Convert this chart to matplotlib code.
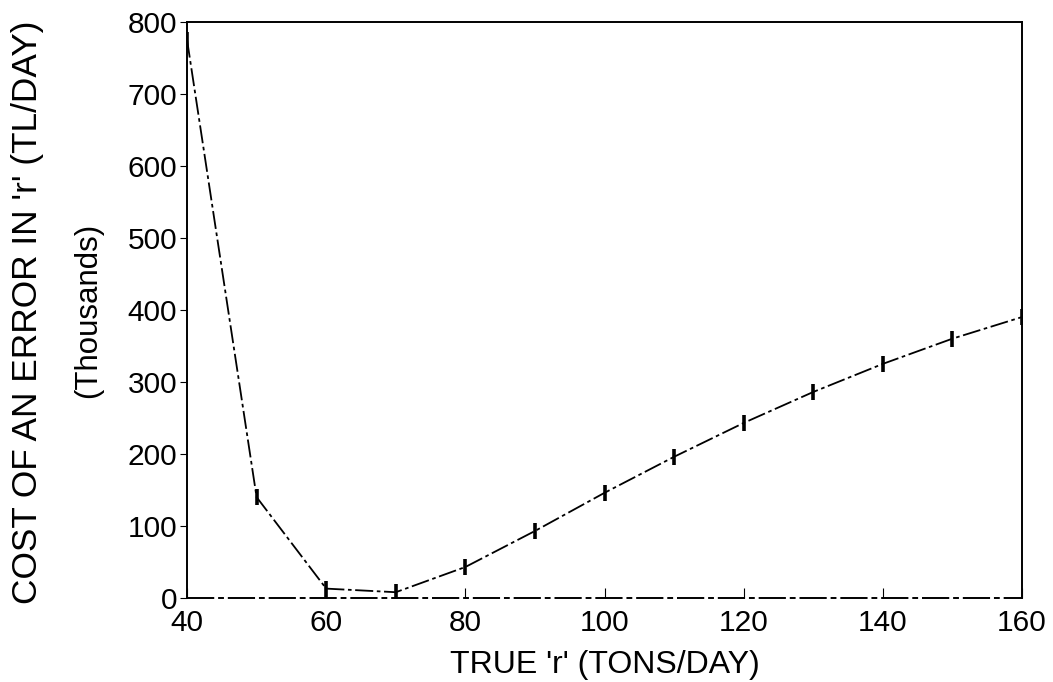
import matplotlib.pyplot as plt

plt.rcParams["font.family"] = ["Liberation Sans", "DejaVu Sans"]

# true r (tons/day) and cost of an error (thousand TL/day)
true_r = [40, 50, 60, 70, 80, 90, 100, 110, 120, 130, 140, 150, 160]
cost = [775, 140, 13, 8, 43, 93, 146, 196, 243, 286, 325, 360, 390]
zero_line = [0] * len(true_r)

fig = plt.figure(figsize=(10.53, 6.82), dpi=100)
ax = fig.add_axes([0.1776, 0.1232, 0.793, 0.845])

# zero reference line doubles as the bottom axis
ax.plot(true_r, zero_line, color="black", lw=1.4, ls=(0, (14, 2, 3, 2)),
        clip_on=False)
ax.plot(true_r, cost, color="black", lw=1.3, ls=(0, (10, 2, 2, 2)),
        marker="|", markersize=11, markeredgewidth=2.6)

ax.set_xlim(40, 160)
ax.set_ylim(0, 800)
ax.set_xticks(range(40, 161, 20))
ax.set_yticks(range(0, 801, 100))
ax.tick_params(axis="x", direction="in", length=7, labelsize=21.5, pad=8)
ax.tick_params(axis="y", direction="out", length=5, labelsize=21.5, pad=2)
ax.spines["bottom"].set_visible(False)
for s in ("top", "left", "right"):
    ax.spines[s].set_linewidth(1.4)

ax.set_xlabel("TRUE 'r' (TONS/DAY)", fontsize=23, labelpad=9)

fig.text(28 / 1053, 1 - 312 / 682, "COST OF AN ERROR IN 'r' (TL/DAY)",
         rotation=90, ha="center", va="center", fontsize=25.4)
fig.text(88 / 1053, 1 - 310 / 682, "(Thousands)",
         rotation=90, ha="center", va="center", fontsize=22.5)

fig.savefig("out.png", dpi=100)
